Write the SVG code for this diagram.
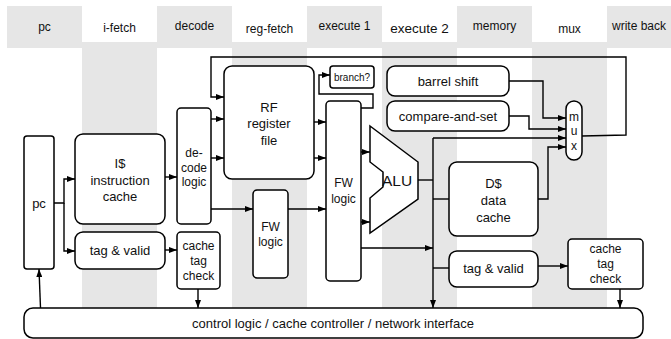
<svg xmlns="http://www.w3.org/2000/svg" width="671" height="339" viewBox="0 0 671 339">
<style>
.hdr{fill:#e6e6e6;stroke:none}
.ht{font-family:"Liberation Sans",Arial,sans-serif;font-size:12px;fill:#111;text-anchor:middle}
.box{fill:#fff;stroke:#000;stroke-width:1.5}
.t{font-family:"Liberation Sans",Arial,sans-serif;font-size:13px;fill:#111;text-anchor:middle}
.ts{font-family:"Liberation Sans",Arial,sans-serif;font-size:12px;fill:#111;text-anchor:middle}
.w{fill:none;stroke:#000;stroke-width:1.4}
.a{fill:none;stroke:#000;stroke-width:1.4;marker-end:url(#ah)}
</style>
<defs>
<marker id="ah" markerUnits="userSpaceOnUse" markerWidth="8" markerHeight="6" refX="8" refY="3" orient="auto">
<path d="M0,0 L8,3 L0,6 z" fill="#000"/>
</marker>
</defs>
<g id="background">
<rect class="hdr" x="7" y="6" width="75" height="36"/>
<rect class="hdr" x="157" y="6" width="75" height="36"/>
<rect class="hdr" x="307" y="6" width="75" height="36"/>
<rect class="hdr" x="457" y="6" width="75" height="36"/>
<rect class="hdr" x="607" y="6" width="64" height="36"/>
<rect class="hdr" x="7" y="42" width="664" height="6"/>
<rect class="hdr" x="82" y="48" width="75" height="262"/>
<rect class="hdr" x="232" y="48" width="75" height="262"/>
<rect class="hdr" x="382" y="48" width="75" height="262"/>
<rect class="hdr" x="532" y="48" width="75" height="262"/>
<text class="ht" x="44.5" y="31">pc</text>
<text class="ht" x="119.5" y="32">i-fetch</text>
<text class="ht" x="194.5" y="30">decode</text>
<text class="ht" x="269.5" y="33">reg-fetch</text>
<text class="ht" x="344.5" y="30">execute 1</text>
<text class="ht" x="419.5" y="33" style="font-size:13.5px">execute 2</text>
<text class="ht" x="494.5" y="30">memory</text>
<text class="ht" x="569.5" y="33">mux</text>
<text class="ht" x="639" y="30">write back</text>
</g>
<g id="connectors">
<path class="a" d="M54,203 H64 V179 H75"/>
<path class="a" d="M64,203 V251 H75"/>
<path class="a" d="M165,177 H177"/>
<path class="a" d="M165,250 H177"/>
<path class="a" d="M198,289 V308"/>
<path class="a" d="M40.5,308 L39,269"/>
<path class="a" d="M211,119 H224"/>
<path class="a" d="M211,158 H224"/>
<path class="a" d="M211,209 H253"/>
<path class="a" d="M288,209 H326"/>
<path class="a" d="M314,122 H326"/>
<path class="a" d="M314,158 H326"/>
<path class="a" d="M361,108 H373 V94 H319 V75 H330"/>
<path class="a" d="M361,152 H370"/>
<path class="a" d="M361,222 H370"/>
<path class="w" d="M418,180 H433"/>
<path class="a" d="M433,138 V308"/>
<path class="a" d="M433,138 H566"/>
<path class="a" d="M361,248 H433"/>
<path class="w" d="M433,199 H449"/>
<path class="w" d="M433,268 H449"/>
<path class="a" d="M538,199 H548 V147 H566"/>
<path class="a" d="M509,81 H543 V118 H566"/>
<path class="a" d="M509,116 H529 V129 H566"/>
<path class="a" d="M538,266 H568"/>
<path class="a" d="M620,289 V308"/>
<path class="a" d="M582,136 L626,135 V57 H211 V97 H224"/>
</g>
<g id="control">
<rect class="box" x="24" y="308" width="619" height="30" rx="9"/>
<text class="t" x="333" y="328">control logic / cache controller / network interface</text>
</g>
<g id="pc">
<rect class="box" x="24" y="136" width="30" height="133" rx="3"/>
<text class="t" x="39" y="208">pc</text>
</g>
<g id="icache">
<rect class="box" x="75" y="134" width="90" height="90" rx="8"/>
<text class="t" x="120" y="168">I$</text>
<text class="t" x="120" y="185">instruction</text>
<text class="t" x="120" y="201">cache</text>
</g>
<g id="itag">
<rect class="box" x="75" y="232" width="90" height="37" rx="8"/>
<text class="t" x="120" y="255">tag &amp; valid</text>
</g>
<g id="decode">
<rect class="box" x="177" y="108" width="34" height="116" rx="4"/>
<text class="ts" x="194" y="157">de-</text>
<text class="ts" x="194" y="172">code</text>
<text class="ts" x="194" y="186">logic</text>
</g>
<g id="itagcheck">
<rect class="box" x="177" y="232" width="43" height="57" rx="4"/>
<text class="ts" x="198.5" y="250">cache</text>
<text class="ts" x="198.5" y="265">tag</text>
<text class="ts" x="198.5" y="280">check</text>
</g>
<g id="rf">
<rect class="box" x="224" y="66" width="90" height="113" rx="8"/>
<text class="t" x="269" y="112">RF</text>
<text class="t" x="269" y="128">register</text>
<text class="t" x="269" y="145">file</text>
</g>
<g id="fw1">
<rect class="box" x="253" y="190" width="35" height="88" rx="4"/>
<text class="ts" x="270.5" y="231">FW</text>
<text class="ts" x="270.5" y="246">logic</text>
</g>
<g id="fw2">
<rect class="box" x="326" y="101" width="35" height="180" rx="4"/>
<text class="ts" x="343.5" y="187">FW</text>
<text class="ts" x="343.5" y="203">logic</text>
</g>
<g id="branch">
<rect class="box" x="330" y="66" width="44" height="22" rx="3"/>
<text class="ht" x="352" y="81" style="font-size:10px">branch?</text>
</g>
<g id="alu">
<polygon class="box" points="370,126 418,162 418,199 370,233 370,198 383,187 383,172 370,162"/>
<text class="t" x="397" y="186" style="font-size:15.5px">ALU</text>
</g>
<g id="barrel">
<rect class="box" x="387" y="66" width="122" height="30" rx="8"/>
<text class="t" x="448" y="86">barrel shift</text>
</g>
<g id="compare">
<rect class="box" x="387" y="101" width="122" height="30" rx="8"/>
<text class="t" x="448" y="121">compare-and-set</text>
</g>
<g id="dcache">
<rect class="box" x="449" y="162" width="89" height="74" rx="8"/>
<text class="t" x="493.5" y="188">D$</text>
<text class="t" x="493.5" y="205">data</text>
<text class="t" x="493.5" y="222">cache</text>
</g>
<g id="dtag">
<rect class="box" x="449" y="251" width="89" height="36" rx="8"/>
<text class="t" x="493.5" y="273">tag &amp; valid</text>
</g>
<g id="mux">
<rect class="box" x="566" y="101" width="16" height="59" rx="8"/>
<text class="ts" x="574" y="121">m</text>
<text class="ts" x="574" y="135">u</text>
<text class="ts" x="574" y="150">x</text>
</g>
<g id="dtagcheck">
<rect class="box" x="568" y="239" width="75" height="50" rx="4"/>
<text class="ts" x="605.5" y="253">cache</text>
<text class="ts" x="605.5" y="268">tag</text>
<text class="ts" x="605.5" y="283">check</text>
</g>
</svg>
